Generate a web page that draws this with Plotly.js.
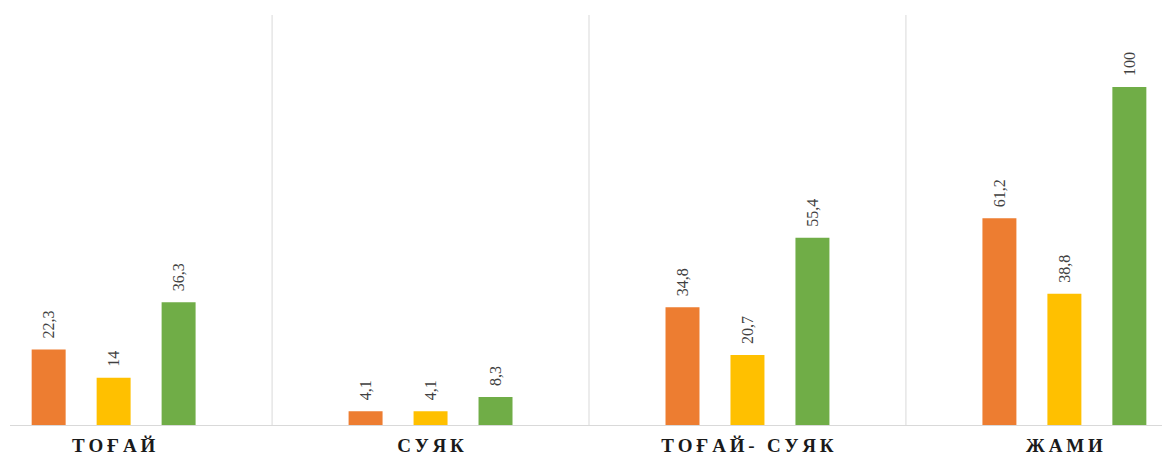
<!DOCTYPE html>
<html>
<head>
<meta charset="utf-8">
<script src="https://cdn.plot.ly/plotly-3.0.1.min.js"></script>
<style>html,body{margin:0;padding:0;background:#fff;}#chart{width:1162px;height:460px;}</style>
</head>
<body>
<div id="chart"></div>
<script>
const categories = ["ТОҒАЙ", "СУЯК", "ТОҒАЙ- СУЯК", "ЖАМИ"];
const seriesOrange = [22.3, 4.1, 34.8, 61.2];
const seriesYellow = [14, 4.1, 20.7, 38.8];
const seriesGreen = [36.3, 8.3, 55.4, 100];

const fmt = v => '\u2002' + String(v).replace('.', ',');
const spaced = s => s.split('').join('\u2009');

const colors = ['#ED7D31', '#FFC000', '#70AD47'];
const names = ['orange', 'yellow', 'green'];
const xs = categories.map((c, i) => i);

const traces = [seriesOrange, seriesYellow, seriesGreen].map((vals, k) => ({
  type: 'bar',
  x: xs,
  y: vals,
  name: names[k],
  marker: {color: colors[k]},
  text: vals.map(fmt),
  textposition: 'outside',
  textangle: -90,
  constraintext: 'none',
  cliponaxis: false,
  textfont: {family: 'Liberation Serif, serif', size: 16, color: '#404040'},
  hoverinfo: 'none'
}));

const layout = {
  width: 1162,
  height: 460,
  margin: {l: 10, r: 0, t: 15, b: 35},
  paper_bgcolor: '#fff',
  plot_bgcolor: '#fff',
  showlegend: false,
  barmode: 'group',
  bargap: 0.385,
  bargroupgap: 0.477,
  xaxis: {
    type: 'linear',
    range: [-0.327, 3.308],
    tickvals: xs,
    ticktext: categories.map(spaced),
    showgrid: false,
    zeroline: false,
    showline: true,
    linecolor: '#d9d9d9',
    linewidth: 1,
    ticks: '',
    ticklabelstandoff: 3,
    tickfont: {family: 'Liberation Serif, serif', size: 19, color: '#1a1a1a', weight: 'bold'}
  },
  yaxis: {
    range: [0, 121.3],
    visible: false,
    showgrid: false,
    zeroline: false
  },
  shapes: [0.5, 1.5, 2.5].map(b => ({
    type: 'line', xref: 'x', yref: 'paper', x0: b, x1: b, y0: 0, y1: 1,
    line: {color: '#d9d9d9', width: 1}
  }))
};

Plotly.newPlot('chart', traces, layout, {displayModeBar: false, staticPlot: true});
</script>
</body>
</html>
